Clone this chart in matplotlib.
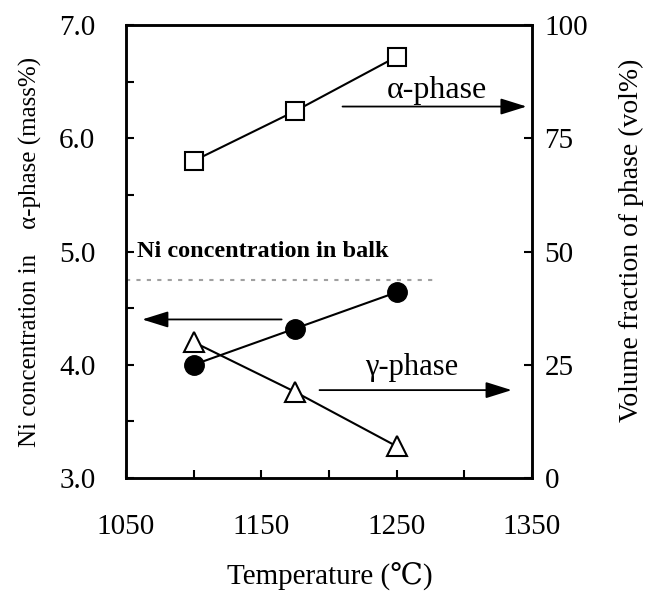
import matplotlib.pyplot as plt
from matplotlib.ticker import MultipleLocator, FixedLocator

plt.rcParams['font.family'] = ['Liberation Serif', 'DejaVu Serif']

# datos
temperaturas = [1100, 1175, 1250]
alfa_vol = [70, 81, 93]          # fraccion de volumen fase alfa (vol%)
gamma_vol = [30, 19, 7]          # fraccion de volumen fase gamma (vol%)
ni_alfa = [4.0, 4.32, 4.64]      # Ni en fase alfa (mass%)
ni_balk = 4.75
x_ticks = [1050, 1150, 1250, 1350]
y_izq_ticks = [3.0, 4.0, 5.0, 6.0, 7.0]
y_der_ticks = [0, 25, 50, 75, 100]

fig = plt.figure(figsize=(6.62, 5.92), dpi=100)
ax = fig.add_axes([126 / 662, 1 - 478 / 592, 406 / 662, 453 / 592])
ax2 = ax.twinx()

# concentracion de Ni (eje izquierdo)
ax.plot(temperaturas, ni_alfa, color='black', lw=1.5, marker='o', ms=14,
        mfc='black', mec='black', zorder=3)
ax.plot([1050, 1278], [ni_balk, ni_balk], color='#a0a0a0', lw=1.5,
        ls=(0, (2, 3)), zorder=2)
ax.text(1058, 5.0, 'Ni concentration in balk', fontsize=17.5, fontweight='bold',
        va='center', ha='left')

# fracciones de volumen (eje derecho)
ax2.plot(temperaturas, alfa_vol, color='black', lw=1.5, marker='s', ms=13,
         mfc='white', mec='black', mew=1.5, zorder=3)
ax2.plot(temperaturas, gamma_vol, color='black', lw=1.5, marker='^', ms=14,
         mfc='white', mec='black', mew=1.5, zorder=3)

flecha = dict(arrowstyle='-|>,head_length=0.8,head_width=0.25', color='black',
              lw=1.3, mutation_scale=20, shrinkA=0, shrinkB=0)
ax2.annotate('', xy=(1346, 82), xytext=(1210, 82), arrowprops=flecha)
ax2.text(1280, 85.5, 'α-phase', fontsize=23, ha='center', va='center')
ax2.annotate('', xy=(1335, 19.4), xytext=(1193, 19.4), arrowprops=flecha)
ax2.text(1261, 24.5, 'γ-phase', fontsize=22, ha='center', va='center')
ax.annotate('', xy=(1062, 4.40), xytext=(1165, 4.40), arrowprops=flecha)

ax.set_xlim(1050, 1350)
ax.set_ylim(3.0, 7.0)
ax2.set_ylim(0, 100)

ax.xaxis.set_major_locator(FixedLocator(x_ticks))
ax.xaxis.set_minor_locator(MultipleLocator(50))
ax.yaxis.set_major_locator(FixedLocator(y_izq_ticks))
ax.yaxis.set_minor_locator(MultipleLocator(0.5))
ax2.yaxis.set_major_locator(FixedLocator(y_der_ticks))
ax.set_yticklabels([f'{v:.1f}' for v in y_izq_ticks])

ax.tick_params(axis='x', which='both', direction='in', length=6, width=1.5,
               labelsize=21, pad=26)
ax.tick_params(axis='y', which='both', direction='in', length=6, width=1.5,
               labelsize=21, pad=22)
ax2.tick_params(axis='y', direction='in', length=6, width=1.5,
                labelsize=21, pad=9)

for a in (ax, ax2):
    for s in a.spines.values():
        s.set_linewidth(1.8)

ax.set_xlabel('Temperature (℃)', fontsize=21)
ax.xaxis.set_label_coords(0.502, -0.186)
ax.set_ylabel('Ni concentration in    α-phase (mass%)', fontsize=18)
ax.yaxis.set_label_coords(-0.207, 0.499)
ax2.set_ylabel('Volume fraction of phase (vol%)', fontsize=20)
ax2.yaxis.set_label_coords(1.214, 0.525)

plt.savefig('out.png', dpi=100)
